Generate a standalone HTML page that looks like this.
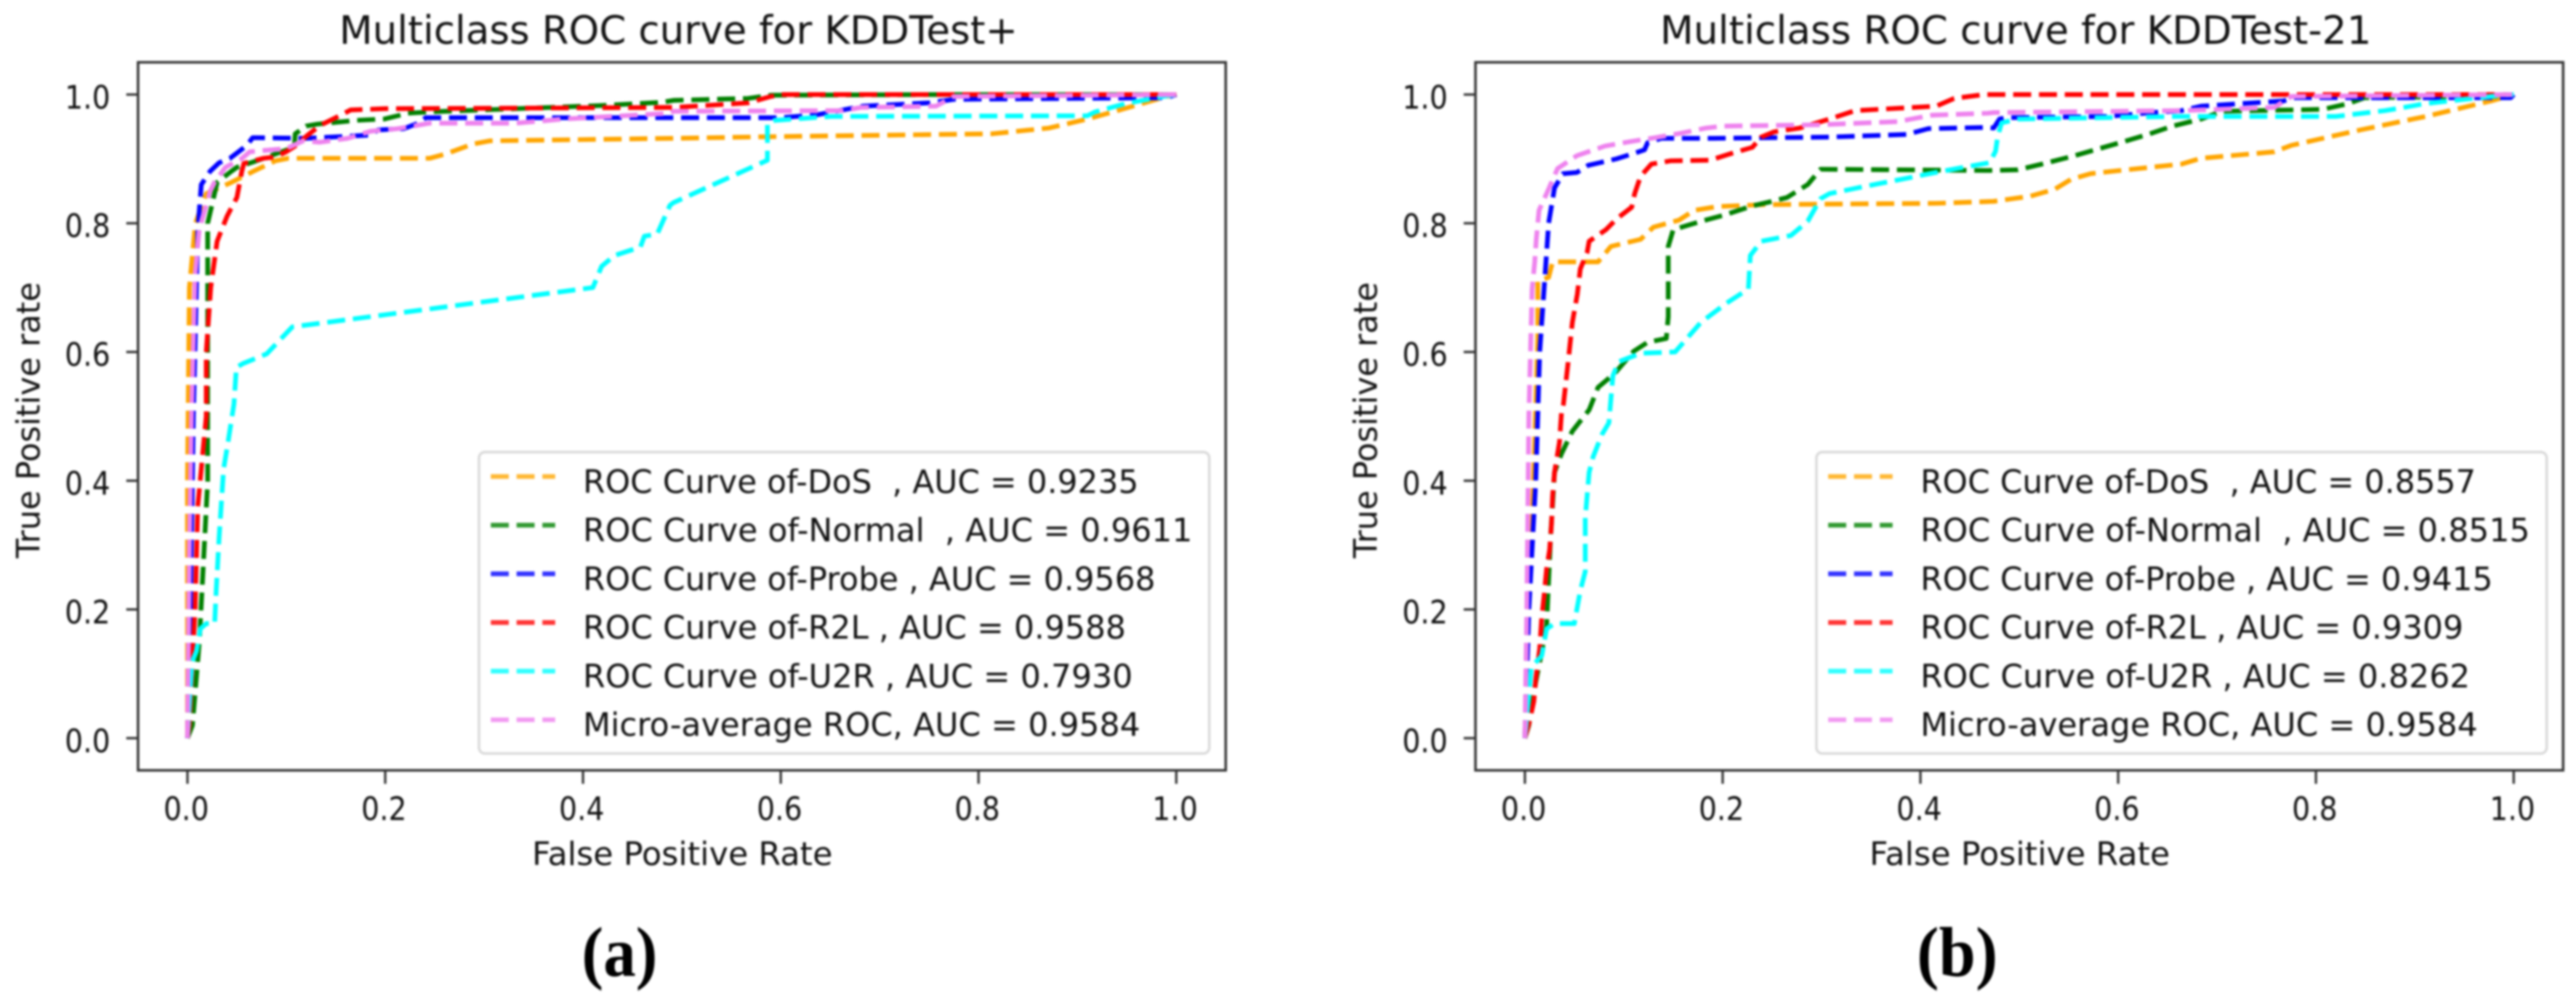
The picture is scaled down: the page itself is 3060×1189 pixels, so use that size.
<!DOCTYPE html>
<html lang="en">
<head>
<meta charset="utf-8">
<title>Multiclass ROC curves</title>
<style>
html,body{margin:0;padding:0;background:#fff;}
#figure{display:block;width:3060px;height:1189px;}
#figure text{font-family:"DejaVu Sans","Liberation Sans",sans-serif;fill:#111;white-space:pre;}
#figure text.caption{font-family:"Liberation Serif","DejaVu Serif",serif;font-weight:bold;fill:#000;}
#ink{filter:blur(1.3px);}
</style>
</head>
<body>
<svg id="figure" xmlns="http://www.w3.org/2000/svg" width="3060" height="1189" viewBox="0 0 3060 1189">
<rect width="3060" height="1189" fill="#fff"/>
<g id="ink"></g>
</svg>
<script>
// ---------- shared labels ----------
const xTickValues = [0, 0.2, 0.4, 0.6, 0.8, 1.0];
const yTickValues = [0, 0.2, 0.4, 0.6, 0.8, 1.0];
const xTickLabels = ['0.0', '0.2', '0.4', '0.6', '0.8', '1.0'];
const yTickLabels = ['0.0', '0.2', '0.4', '0.6', '0.8', '1.0'];
const seriesNames = ['dos', 'normal', 'probe', 'r2l', 'u2r', 'micro-average'];
const seriesColors = ['#ffa500', '#008000', '#0000ff', '#ff0000', '#00ffff', '#ee82ee'];
const legendLabelsA = [
  'ROC Curve of-DoS  , AUC = 0.9235',
  'ROC Curve of-Normal  , AUC = 0.9611',
  'ROC Curve of-Probe , AUC = 0.9568',
  'ROC Curve of-R2L , AUC = 0.9588',
  'ROC Curve of-U2R , AUC = 0.7930',
  'Micro-average ROC, AUC = 0.9584'
];
const legendLabelsB = [
  'ROC Curve of-DoS  , AUC = 0.8557',
  'ROC Curve of-Normal  , AUC = 0.8515',
  'ROC Curve of-Probe , AUC = 0.9415',
  'ROC Curve of-R2L , AUC = 0.9309',
  'ROC Curve of-U2R , AUC = 0.8262',
  'Micro-average ROC, AUC = 0.9584'
];

// ---------- panel (a) KDDTest+ ----------
const dosFprA = [0,0,0.002,0.008,0.019,0.045,0.067,0.089,0.102,0.245,0.262,0.288,0.306,0.492,0.5865,0.814,0.833,0.871,0.891,0.91,0.936,0.963,0.99,1];
const dosTprA = [0,0.4,0.7,0.8,0.846,0.864,0.881,0.897,0.901,0.901,0.908,0.923,0.928,0.932,0.9345,0.939,0.942,0.948,0.955,0.962,0.973,0.985,0.997,1];
const normalFprA = [0,0.005,0.012,0.0204,0.0204,0.03,0.0445,0.05,0.068,0.0913,0.108,0.109,0.12,0.131,0.145,0.171,0.199,0.223,0.245,0.419,0.48,0.4915,0.567,0.59,0.756,1];
const normalTprA = [0,0.02,0.15,0.4,0.8,0.8634,0.881,0.887,0.896,0.909,0.918,0.939,0.951,0.954,0.956,0.96,0.962,0.971,0.973,0.983,0.988,0.991,0.994,0.999,1,1];
const probeFprA = [0,0.003,0.006,0.0105,0.014,0.023,0.032,0.043,0.049,0.06,0.066,0.12,0.145,0.184,0.193,0.219,0.234,0.241,0.492,0.6,0.637,0.683,0.75,0.775,0.99,1];
const probeTprA = [0,0.2,0.5,0.79,0.86,0.881,0.894,0.901,0.908,0.921,0.933,0.932,0.934,0.937,0.945,0.947,0.956,0.964,0.964,0.964,0.9686,0.982,0.987,0.9926,0.995,1];
const r2lFprA = [0,0.002,0.0077,0.0104,0.019,0.019,0.0235,0.03,0.04,0.05,0.055,0.057,0.077,0.0885,0.0998,0.111,0.12,0.134,0.151,0.165,0.2,0.492,0.567,0.59,0.6,1];
const r2lTprA = [0,0.02,0.2,0.36,0.5,0.6,0.7,0.772,0.811,0.84,0.881,0.893,0.901,0.903,0.911,0.922,0.935,0.952,0.965,0.976,0.978,0.98,0.987,0.997,1,1];
const u2rFprA = [0,0.0045,0.009,0.013,0.019,0.0275,0.029,0.032,0.0365,0.041,0.047,0.0495,0.056,0.08,0.106,0.41,0.4188,0.432,0.458,0.462,0.475,0.488,0.4915,0.5865,0.5865,0.594,0.632,0.651,0.91,0.918,0.949,0.987,1];
const u2rTprA = [0,0.118,0.135,0.17,0.178,0.178,0.229,0.312,0.418,0.46,0.519,0.576,0.582,0.597,0.639,0.70,0.733,0.75,0.763,0.78,0.783,0.828,0.832,0.898,0.955,0.96,0.964,0.966,0.967,0.973,0.986,0.997,1];
const microFprA = [0,0.002,0.004,0.0077,0.0118,0.023,0.0275,0.0385,0.0545,0.063,0.077,0.1,0.117,0.134,0.162,0.185,0.213,0.245,0.332,0.38,0.488,0.4915,0.663,0.681,0.757,0.775,1];
const microTprA = [0,0.3,0.5,0.72,0.79,0.85,0.864,0.887,0.90,0.911,0.913,0.916,0.928,0.926,0.932,0.943,0.947,0.9555,0.9555,0.962,0.971,0.974,0.975,0.98,0.982,0.997,1];

// ---------- panel (b) KDDTest-21 ----------
const dosFprB = [0,0.004,0.0087,0.013,0.013,0.024,0.028,0.074,0.087,0.117,0.13,0.156,0.171,0.195,0.243,0.416,0.474,0.511,0.536,0.552,0.572,0.602,0.664,0.684,0.758,0.775,0.845,0.911,0.977,1];
const dosTprB = [0,0.2,0.4,0.62,0.71,0.716,0.74,0.74,0.764,0.775,0.794,0.805,0.82,0.826,0.829,0.831,0.834,0.842,0.853,0.868,0.877,0.882,0.892,0.901,0.911,0.921,0.945,0.966,0.99,1];
const normalFprB = [0,0.004,0.011,0.017,0.022,0.026,0.03,0.037,0.048,0.065,0.074,0.091,0.11,0.124,0.143,0.145,0.145,0.15,0.178,0.2,0.23,0.247,0.265,0.286,0.299,0.468,0.4985,0.523,0.556,0.581,0.606,0.63,0.655,0.684,0.705,0.807,0.833,0.849,0.98,1];
const normalTprB = [0,0.02,0.087,0.134,0.176,0.312,0.413,0.442,0.477,0.51,0.545,0.567,0.601,0.615,0.621,0.655,0.764,0.79,0.803,0.812,0.827,0.833,0.84,0.86,0.884,0.882,0.883,0.892,0.905,0.916,0.927,0.938,0.951,0.962,0.974,0.977,0.986,0.995,0.997,1];
const probeFprB = [0,0.004,0.011,0.015,0.0195,0.024,0.03,0.0385,0.0527,0.064,0.0755,0.0925,0.107,0.121,0.124,0.138,0.19,0.308,0.386,0.408,0.468,0.474,0.48,0.486,0.589,0.643,0.664,0.684,0.767,0.779,0.997,1];
const probeTprB = [0,0.2,0.4,0.6,0.7,0.8,0.855,0.877,0.879,0.89,0.894,0.90,0.907,0.914,0.925,0.932,0.932,0.934,0.938,0.947,0.949,0.948,0.962,0.964,0.966,0.973,0.975,0.982,0.99,0.995,0.995,1];
const r2lFprB = [0,0.004,0.009,0.011,0.015,0.017,0.0195,0.022,0.025,0.027,0.028,0.03,0.035,0.037,0.039,0.0434,0.048,0.053,0.056,0.063,0.065,0.082,0.093,0.108,0.111,0.117,0.128,0.1475,0.187,0.208,0.23,0.239,0.252,0.278,0.308,0.334,0.416,0.434,0.464,1];
const r2lTprB = [0,0.022,0.057,0.092,0.139,0.187,0.222,0.263,0.293,0.335,0.376,0.413,0.46,0.506,0.519,0.58,0.646,0.69,0.729,0.755,0.772,0.79,0.807,0.825,0.846,0.873,0.892,0.897,0.898,0.908,0.918,0.934,0.942,0.948,0.962,0.975,0.982,0.994,1,1];
const u2rFprB = [0,0.0065,0.017,0.022,0.03,0.05,0.056,0.061,0.061,0.065,0.069,0.078,0.085,0.089,0.095,0.117,0.152,0.178,0.204,0.226,0.228,0.239,0.269,0.286,0.299,0.308,0.343,0.373,0.416,0.44,0.47,0.476,0.478,0.482,0.4985,0.664,0.82,0.87,0.911,0.952,0.995,1];
const u2rTprB = [0,0.11,0.128,0.17,0.178,0.178,0.229,0.259,0.342,0.413,0.437,0.472,0.49,0.563,0.585,0.598,0.6,0.646,0.676,0.698,0.75,0.772,0.781,0.803,0.838,0.846,0.857,0.866,0.879,0.886,0.894,0.912,0.934,0.956,0.962,0.966,0.966,0.975,0.986,0.993,1,1];
const microFprB = [0,0.002,0.004,0.0073,0.01,0.0116,0.0143,0.0243,0.033,0.0526,0.081,0.107,0.132,0.158,0.183,0.2,0.299,0.377,0.412,0.468,0.474,0.664,0.758,0.775,1];
const microTprB = [0,0.2,0.5,0.698,0.74,0.776,0.82,0.854,0.885,0.905,0.92,0.927,0.933,0.94,0.948,0.951,0.953,0.958,0.968,0.971,0.972,0.975,0.98,0.997,1];

const seriesFprA = [dosFprA, normalFprA, probeFprA, r2lFprA, u2rFprA, microFprA];
const seriesTprA = [dosTprA, normalTprA, probeTprA, r2lTprA, u2rTprA, microTprA];
const seriesFprB = [dosFprB, normalFprB, probeFprB, r2lFprB, u2rFprB, microFprB];
const seriesTprB = [dosTprB, normalTprB, probeTprB, r2lTprB, u2rTprB, microTprB];

const NS = 'http://www.w3.org/2000/svg';
const ink = document.getElementById('ink');
const legendTextWidths = [660, 724, 680, 645, 653, 662];

function svgEl(tag, name, parent) {
  const el = document.createElementNS(NS, tag);
  
  
  parent.appendChild(el);
  return el;
}

function addText(parent, name, str, x, y, size, length, rotate) {
  const t = svgEl('text', name, parent);
  t.setAttribute('x', x);
  t.setAttribute('y', y);
  t.setAttribute('font-size', size);
  t.setAttribute('xml:space', 'preserve');
  t.setAttribute('textLength', length);
  t.setAttribute('lengthAdjust', 'spacingAndGlyphs');
  if (rotate) t.setAttribute('transform', 'rotate(-90 ' + x + ' ' + y + ')');
  t.textContent = str;
  return t;
}

function addLine(parent, name, x1, y1, x2, y2, color, width) {
  const l = svgEl('line', name, parent);
  l.setAttribute('x1', x1);
  l.setAttribute('y1', y1);
  l.setAttribute('x2', x2);
  l.setAttribute('y2', y2);
  l.setAttribute('stroke', color);
  l.setAttribute('stroke-width', width);
  return l;
}

function drawPanel(cfg) {
  const g = svgEl('g', 'roc-panel-' + cfg.id, ink);
  const ox = cfg.left;
  const plotLeft = ox, plotRight = ox + 1292, plotTop = 74, plotBottom = 915;
  const scaleX = v => plotLeft + 58.7 + 1174.6 * v;
  const scaleY = v => plotBottom - 38.2 - 764.5 * v;

  // title
  addText(g, 'chart-title', cfg.title, cfg.titleX, 52, 46.2, cfg.titleWidth);

  // curves
  const curves = svgEl('g', 'roc-curves', g);
  seriesNames.forEach((sname, i) => {
    const p = svgEl('polyline', 'curve-' + sname, curves);
    const xs = cfg.fpr[i], ys = cfg.tpr[i];
    p.setAttribute('points', xs.map((x, k) => scaleX(x).toFixed(1) + ',' + scaleY(ys[k]).toFixed(1)).join(' '));
    p.setAttribute('fill', 'none');
    p.setAttribute('stroke', seriesColors[i]);
    p.setAttribute('stroke-width', '5.6');
    p.setAttribute('stroke-dasharray', '21.4 9.24');
    p.setAttribute('stroke-linejoin', 'round');
  });

  // spines
  const frame = svgEl('rect', 'plot-frame', g);
  frame.setAttribute('x', plotLeft);
  frame.setAttribute('y', plotTop);
  frame.setAttribute('width', plotRight - plotLeft);
  frame.setAttribute('height', plotBottom - plotTop);
  frame.setAttribute('fill', 'none');
  frame.setAttribute('stroke', '#333');
  frame.setAttribute('stroke-width', '3');

  // x axis
  xTickValues.forEach((v, i) => {
    addLine(g, 'x-tick', scaleX(v), plotBottom, scaleX(v), plotBottom + 16, '#333', 2.8);
    addText(g, 'x-tick-label', xTickLabels[i], scaleX(v) - 28.5, 974, 38.5, 54);
  });
  // y axis
  yTickValues.forEach((v, i) => {
    addLine(g, 'y-tick', plotLeft - 14, scaleY(v), plotLeft, scaleY(v), '#333', 2.8);
    addText(g, 'y-tick-label', yTickLabels[i], ox - 87, scaleY(v) + 16.5, 38.5, 54);
  });
  addText(g, 'x-axis-title', 'False Positive Rate', ox + 468, 1027.5, 38.5, 357);
  addText(g, 'y-axis-title', 'True Positive rate', ox - 117, 663, 38.5, 328, true);

  // legend
  const lg = svgEl('g', 'legend', g);
  const box = svgEl('rect', 'legend-frame', lg);
  box.setAttribute('x', ox + 405);
  box.setAttribute('y', 537);
  box.setAttribute('width', 867.5);
  box.setAttribute('height', 358);
  box.setAttribute('rx', 7);
  box.setAttribute('fill', 'rgba(255,255,255,0.8)');
  box.setAttribute('stroke', '#d9d9d9');
  box.setAttribute('stroke-width', '3');
  cfg.legend.forEach((label, i) => {
    const y = 566 + 57.8 * i;
    const h = addLine(lg, 'legend-handle-' + seriesNames[i], ox + 419, y, ox + 495.5, y, seriesColors[i], 5.6);
    h.setAttribute('stroke-dasharray', '21.4 9.24');
    h.setAttribute('opacity', '0.8');
    addText(lg, 'legend-label-' + seriesNames[i], label, ox + 528.5, 585.5 + 57.7 * i, 38.5, legendTextWidths[i]);
  });

  // sub-figure caption
  const cap = addText(g, 'subfigure-caption', cfg.caption, cfg.captionX, 1159, 84, cfg.captionWidth);
  cap.setAttribute('class', 'caption');
}

drawPanel({
  id: 'a', left: 164, title: 'Multiclass ROC curve for KDDTest+', titleX: 403, titleWidth: 806,
  fpr: seriesFprA, tpr: seriesTprA, legend: legendLabelsA, caption: '(a)', captionX: 691, captionWidth: 90
});
drawPanel({
  id: 'b', left: 1752.7, title: 'Multiclass ROC curve for KDDTest-21', titleX: 1972, titleWidth: 845,
  fpr: seriesFprB, tpr: seriesTprB, legend: legendLabelsB, caption: '(b)', captionX: 2277, captionWidth: 96
});
</script>
</body>
</html>
